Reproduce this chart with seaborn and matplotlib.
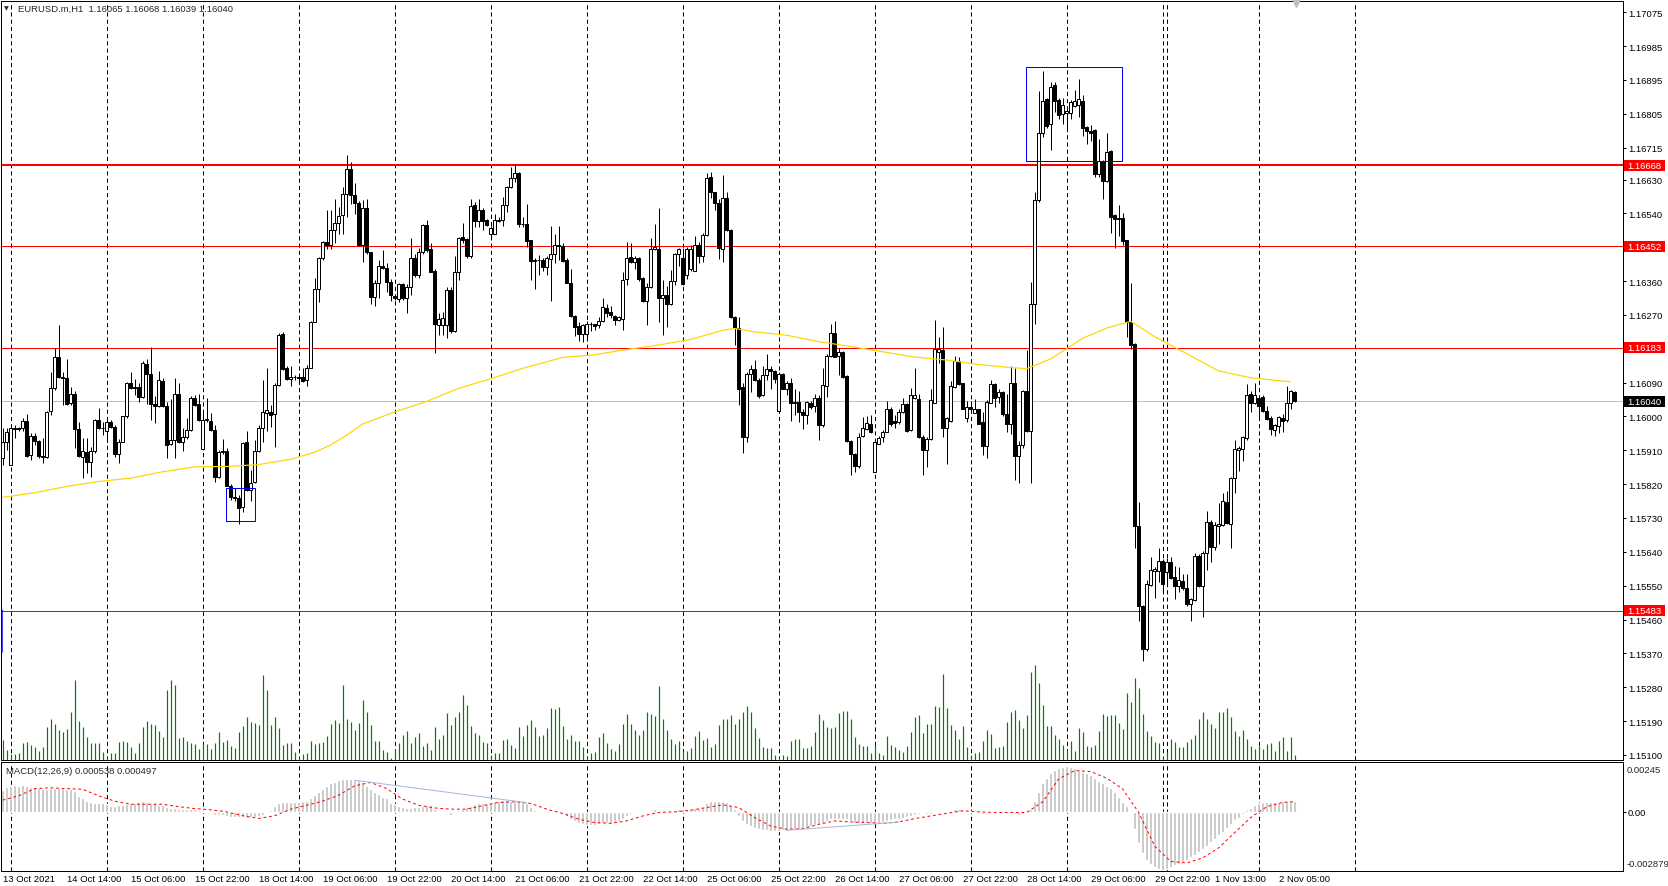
import matplotlib
matplotlib.use("Agg")
import matplotlib.pyplot as plt
import matplotlib.transforms as mtransforms
from matplotlib.patches import Rectangle
import numpy as np
import seaborn as sns

# EURUSD.m H1 candles, bar 0 = 13 Oct 2021 22:00
open_ = [
 1.15889, 1.15933, 1.15871, 1.15966, 1.15970, 1.15969, 1.15988, 1.15898, 1.15949, 1.15935,
 1.15896, 1.15893, 1.16015, 1.16075, 1.16159, 1.16105, 1.16103, 1.16035, 1.16059, 1.15966,
 1.15893, 1.15905, 1.15878, 1.15907, 1.15990, 1.15969, 1.15960, 1.15985, 1.15973, 1.15901,
 1.15933, 1.16000, 1.16088, 1.16075, 1.16077, 1.16052, 1.16139, 1.16114, 1.16034, 1.16029,
 1.16094, 1.16029, 1.15926, 1.15938, 1.16059, 1.15931, 1.15946, 1.15965, 1.16048, 1.16032,
 1.15914, 1.15991, 1.15988, 1.15964, 1.15840, 1.15905, 1.15907, 1.15816, 1.15785, 1.15783,
 1.15758, 1.15931, 1.15805, 1.15825, 1.15907, 1.15969, 1.16008, 1.16013, 1.16006, 1.16084,
 1.16218, 1.16130, 1.16100, 1.16106, 1.16104, 1.16106, 1.16096, 1.16130, 1.16252, 1.16340,
 1.16420, 1.16464, 1.16455, 1.16495, 1.16515, 1.16535, 1.16592, 1.16659, 1.16590, 1.16568,
 1.16455, 1.16553, 1.16436, 1.16317, 1.16356, 1.16400, 1.16395, 1.16358, 1.16320, 1.16311,
 1.16351, 1.16314, 1.16345, 1.16420, 1.16376, 1.16436, 1.16508, 1.16445, 1.16386, 1.16243,
 1.16243, 1.16243, 1.16336, 1.16227, 1.16385, 1.16477, 1.16471, 1.16427, 1.16562, 1.16519,
 1.16550, 1.16522, 1.16485, 1.16485, 1.16521, 1.16523, 1.16562, 1.16610, 1.16634, 1.16648,
 1.16513, 1.16512, 1.16468, 1.16414, 1.16416, 1.16415, 1.16398, 1.16418, 1.16431, 1.16455,
 1.16453, 1.16415, 1.16355, 1.16268, 1.16240, 1.16219, 1.16219, 1.16247, 1.16245, 1.16243,
 1.16254, 1.16289, 1.16277, 1.16268, 1.16256, 1.16259, 1.16365, 1.16423, 1.16411, 1.16420,
 1.16369, 1.16307, 1.16345, 1.16446, 1.16446, 1.16316, 1.16322, 1.16298, 1.16360, 1.16433,
 1.16422, 1.16375, 1.16391, 1.16388, 1.16457, 1.16427, 1.16483, 1.16636, 1.16596, 1.16568,
 1.16446, 1.16581, 1.16496, 1.16265, 1.16235, 1.16079, 1.15946, 1.16112, 1.16126, 1.16096,
 1.16057, 1.16111, 1.16127, 1.16120, 1.16014, 1.16112, 1.16074, 1.16090, 1.16039, 1.16039,
 1.16011, 1.16005, 1.16037, 1.16028, 1.16050, 1.15977, 1.16081, 1.16161, 1.16223, 1.16161,
 1.16172, 1.16107, 1.15935, 1.15899, 1.15867, 1.15949, 1.15966, 1.15981, 1.15853, 1.15928,
 1.15946, 1.15959, 1.16021, 1.15988, 1.15984, 1.16011, 1.16032, 1.15964, 1.16048, 1.16046,
 1.15946, 1.15911, 1.15940, 1.16037, 1.16172, 1.16176, 1.15970, 1.15988, 1.16079, 1.16148,
 1.16088, 1.15996, 1.16026, 1.16010, 1.16019, 1.15984, 1.15922, 1.16037, 1.16087, 1.16053,
 1.16064, 1.16006, 1.15980, 1.16090, 1.15896, 1.15924, 1.16067, 1.15962, 1.16298, 1.16575,
 1.16755, 1.16843, 1.16778, 1.16880, 1.16842, 1.16804, 1.16807, 1.16807, 1.16825, 1.16827,
 1.16840, 1.16770, 1.16759, 1.16762, 1.16646, 1.16680, 1.16625, 1.16707, 1.16535, 1.16526,
 1.16528, 1.16468, 1.16250, 1.16193, 1.15709, 1.15497, 1.15381, 1.15552, 1.15590, 1.15589,
 1.15615, 1.15586, 1.15612, 1.15573, 1.15549, 1.15563, 1.15544, 1.15502, 1.15513, 1.15630,
 1.15549, 1.15636, 1.15720, 1.15654, 1.15710, 1.15712, 1.15773, 1.15714, 1.15836, 1.15911,
 1.15914, 1.15943, 1.16061, 1.16037, 1.16048, 1.16053, 1.16014, 1.15995, 1.15964, 1.15974,
 1.15995, 1.15990, 1.16035, 1.16065]
high = [
 1.15970, 1.15970, 1.15973, 1.15977, 1.15973, 1.15997, 1.16006, 1.15955, 1.15955, 1.15938,
 1.15942, 1.16015, 1.16117, 1.16183, 1.16243, 1.16117, 1.16153, 1.16077, 1.16068, 1.15985,
 1.15942, 1.15944, 1.15920, 1.15992, 1.16022, 1.15986, 1.15993, 1.15990, 1.15977, 1.15940,
 1.16002, 1.16092, 1.16117, 1.16100, 1.16088, 1.16147, 1.16153, 1.16185, 1.16055, 1.16121,
 1.16103, 1.16039, 1.16046, 1.16103, 1.16088, 1.15970, 1.15997, 1.16055, 1.16057, 1.16059,
 1.16013, 1.16050, 1.16008, 1.15977, 1.15911, 1.15940, 1.15917, 1.15820, 1.15811, 1.15792,
 1.15933, 1.15960, 1.15858, 1.15938, 1.15977, 1.16097, 1.16130, 1.16031, 1.16088, 1.16221,
 1.16225, 1.16133, 1.16133, 1.16110, 1.16106, 1.16128, 1.16137, 1.16254, 1.16367, 1.16424,
 1.16466, 1.16548, 1.16548, 1.16577, 1.16557, 1.16610, 1.16694, 1.16677, 1.16621, 1.16572,
 1.16575, 1.16577, 1.16438, 1.16362, 1.16415, 1.16442, 1.16407, 1.16365, 1.16322, 1.16354,
 1.16354, 1.16351, 1.16475, 1.16431, 1.16448, 1.16513, 1.16522, 1.16460, 1.16393, 1.16274,
 1.16278, 1.16345, 1.16345, 1.16427, 1.16477, 1.16515, 1.16475, 1.16579, 1.16570, 1.16579,
 1.16553, 1.16524, 1.16507, 1.16537, 1.16531, 1.16584, 1.16613, 1.16663, 1.16670, 1.16650,
 1.16531, 1.16566, 1.16469, 1.16420, 1.16429, 1.16420, 1.16427, 1.16507, 1.16484, 1.16507,
 1.16460, 1.16420, 1.16393, 1.16269, 1.16250, 1.16247, 1.16254, 1.16250, 1.16247, 1.16265,
 1.16315, 1.16298, 1.16294, 1.16269, 1.16268, 1.16383, 1.16464, 1.16460, 1.16427, 1.16424,
 1.16371, 1.16356, 1.16475, 1.16513, 1.16554, 1.16362, 1.16347, 1.16390, 1.16435, 1.16448,
 1.16448, 1.16450, 1.16457, 1.16480, 1.16465, 1.16488, 1.16648, 1.16650, 1.16598, 1.16579,
 1.16642, 1.16596, 1.16499, 1.16267, 1.16265, 1.16090, 1.16119, 1.16138, 1.16150, 1.16101,
 1.16135, 1.16167, 1.16135, 1.16123, 1.16119, 1.16116, 1.16094, 1.16101, 1.16074, 1.16067,
 1.16021, 1.16041, 1.16041, 1.16060, 1.16058, 1.16129, 1.16167, 1.16245, 1.16254, 1.16182,
 1.16173, 1.16110, 1.15937, 1.15902, 1.15955, 1.15998, 1.16002, 1.16005, 1.15935, 1.15949,
 1.15964, 1.16041, 1.16026, 1.16005, 1.16021, 1.16050, 1.16035, 1.16076, 1.16129, 1.16061,
 1.15950, 1.15946, 1.16074, 1.16257, 1.16211, 1.16238, 1.15999, 1.16094, 1.16161, 1.16158,
 1.16090, 1.16041, 1.16041, 1.16046, 1.16021, 1.16012, 1.16043, 1.16096, 1.16090, 1.16074,
 1.16067, 1.16061, 1.16134, 1.16130, 1.15935, 1.16071, 1.16176, 1.16358, 1.16598, 1.16865,
 1.16919, 1.16846, 1.16890, 1.16888, 1.16846, 1.16848, 1.16825, 1.16841, 1.16869, 1.16898,
 1.16854, 1.16772, 1.16775, 1.16764, 1.16739, 1.16683, 1.16755, 1.16709, 1.16539, 1.16562,
 1.16541, 1.16470, 1.16355, 1.16195, 1.15773, 1.15499, 1.15565, 1.15626, 1.15599, 1.15649,
 1.15620, 1.15623, 1.15626, 1.15602, 1.15599, 1.15581, 1.15581, 1.15518, 1.15636, 1.15633,
 1.15641, 1.15749, 1.15725, 1.15720, 1.15770, 1.15796, 1.15801, 1.15838, 1.15938, 1.15922,
 1.15948, 1.16085, 1.16069, 1.16088, 1.16053, 1.16056, 1.16027, 1.16001, 1.15980, 1.16001,
 1.16006, 1.16082, 1.16071, 1.16068]
low = [
 1.15871, 1.15911, 1.15871, 1.15942, 1.15960, 1.15960, 1.15893, 1.15885, 1.15924, 1.15889,
 1.15876, 1.15889, 1.16004, 1.16070, 1.16101, 1.16031, 1.16031, 1.16031, 1.15915, 1.15893,
 1.15836, 1.15849, 1.15840, 1.15902, 1.15967, 1.15951, 1.15933, 1.15969, 1.15893, 1.15876,
 1.15931, 1.15995, 1.16073, 1.16057, 1.16039, 1.16048, 1.16032, 1.15991, 1.15982, 1.16026,
 1.16026, 1.15889, 1.15924, 1.15889, 1.15929, 1.15907, 1.15940, 1.15961, 1.16029, 1.15988,
 1.15911, 1.15985, 1.15960, 1.15827, 1.15836, 1.15900, 1.15814, 1.15777, 1.15776, 1.15714,
 1.15747, 1.15802, 1.15774, 1.15823, 1.15905, 1.15931, 1.15960, 1.15973, 1.15920, 1.16082,
 1.16123, 1.16097, 1.16082, 1.16097, 1.16092, 1.16092, 1.16082, 1.16128, 1.16250, 1.16303,
 1.16415, 1.16446, 1.16446, 1.16462, 1.16486, 1.16486, 1.16531, 1.16566, 1.16539, 1.16454,
 1.16411, 1.16433, 1.16300, 1.16294, 1.16314, 1.16393, 1.16330, 1.16307, 1.16309, 1.16305,
 1.16309, 1.16274, 1.16323, 1.16371, 1.16367, 1.16433, 1.16438, 1.16383, 1.16168, 1.16216,
 1.16216, 1.16209, 1.16221, 1.16225, 1.16362, 1.16462, 1.16420, 1.16420, 1.16504, 1.16504,
 1.16495, 1.16507, 1.16473, 1.16484, 1.16517, 1.16507, 1.16544, 1.16608, 1.16624, 1.16504,
 1.16504, 1.16451, 1.16362, 1.16340, 1.16376, 1.16386, 1.16377, 1.16307, 1.16407, 1.16415,
 1.16411, 1.16354, 1.16265, 1.16215, 1.16200, 1.16197, 1.16207, 1.16227, 1.16230, 1.16234,
 1.16250, 1.16265, 1.16261, 1.16243, 1.16254, 1.16230, 1.16349, 1.16408, 1.16393, 1.16360,
 1.16305, 1.16243, 1.16342, 1.16442, 1.16252, 1.16216, 1.16238, 1.16296, 1.16350, 1.16400,
 1.16350, 1.16366, 1.16388, 1.16386, 1.16409, 1.16412, 1.16481, 1.16581, 1.16550, 1.16419,
 1.16412, 1.16492, 1.16262, 1.16191, 1.16030, 1.15902, 1.15933, 1.16064, 1.16094, 1.16048,
 1.16055, 1.16096, 1.16074, 1.16090, 1.16014, 1.16073, 1.16057, 1.15988, 1.16005, 1.15986,
 1.15966, 1.15981, 1.16020, 1.16011, 1.15937, 1.15973, 1.16051, 1.16158, 1.16157, 1.16110,
 1.16103, 1.15933, 1.15844, 1.15851, 1.15862, 1.15946, 1.15964, 1.15955, 1.15851, 1.15926,
 1.15931, 1.15958, 1.15975, 1.15970, 1.15981, 1.16008, 1.15958, 1.15961, 1.16046, 1.15942,
 1.15844, 1.15866, 1.15937, 1.16035, 1.16143, 1.15946, 1.15873, 1.15986, 1.16076, 1.16083,
 1.16020, 1.15986, 1.16012, 1.16008, 1.15979, 1.15897, 1.15890, 1.16035, 1.16026, 1.16037,
 1.16001, 1.15959, 1.15953, 1.15830, 1.15822, 1.15917, 1.15959, 1.15822, 1.16245, 1.16571,
 1.16743, 1.16767, 1.16709, 1.16809, 1.16791, 1.16778, 1.16767, 1.16791, 1.16823, 1.16796,
 1.16746, 1.16725, 1.16733, 1.16638, 1.16636, 1.16578, 1.16623, 1.16489, 1.16449, 1.16481,
 1.16455, 1.16211, 1.16179, 1.15649, 1.15455, 1.15350, 1.15376, 1.15549, 1.15518, 1.15560,
 1.15536, 1.15554, 1.15567, 1.15515, 1.15533, 1.15539, 1.15497, 1.15455, 1.15510, 1.15546,
 1.15468, 1.15591, 1.15612, 1.15644, 1.15662, 1.15710, 1.15714, 1.15651, 1.15796, 1.15854,
 1.15882, 1.15938, 1.16011, 1.16032, 1.15990, 1.16011, 1.15990, 1.15951, 1.15948, 1.15956,
 1.15959, 1.15985, 1.16019, 1.16039]
close = [
 1.15933, 1.15958, 1.15970, 1.15970, 1.15966, 1.15988, 1.15896, 1.15949, 1.15935, 1.15896,
 1.15893, 1.16013, 1.16075, 1.16159, 1.16105, 1.16101, 1.16032, 1.16059, 1.15967, 1.15896,
 1.15907, 1.15878, 1.15907, 1.15990, 1.15969, 1.15970, 1.15985, 1.15973, 1.15900, 1.15933,
 1.16000, 1.16090, 1.16075, 1.16077, 1.16052, 1.16141, 1.16114, 1.16034, 1.16029, 1.16096,
 1.16029, 1.15924, 1.15938, 1.16059, 1.15931, 1.15946, 1.15965, 1.16048, 1.16031, 1.15991,
 1.15991, 1.15993, 1.15964, 1.15838, 1.15905, 1.15907, 1.15816, 1.15785, 1.15783, 1.15756,
 1.15929, 1.15805, 1.15823, 1.15907, 1.15970, 1.16011, 1.16016, 1.16004, 1.16084, 1.16216,
 1.16126, 1.16100, 1.16106, 1.16104, 1.16101, 1.16094, 1.16130, 1.16252, 1.16340, 1.16422,
 1.16464, 1.16455, 1.16497, 1.16515, 1.16533, 1.16592, 1.16659, 1.16590, 1.16568, 1.16455,
 1.16554, 1.16436, 1.16317, 1.16356, 1.16400, 1.16395, 1.16358, 1.16324, 1.16314, 1.16351,
 1.16314, 1.16345, 1.16420, 1.16376, 1.16438, 1.16508, 1.16442, 1.16385, 1.16247, 1.16259,
 1.16261, 1.16336, 1.16227, 1.16385, 1.16475, 1.16469, 1.16427, 1.16560, 1.16519, 1.16550,
 1.16519, 1.16508, 1.16501, 1.16522, 1.16523, 1.16563, 1.16610, 1.16634, 1.16648, 1.16513,
 1.16512, 1.16466, 1.16414, 1.16416, 1.16415, 1.16398, 1.16420, 1.16431, 1.16455, 1.16453,
 1.16414, 1.16355, 1.16267, 1.16238, 1.16219, 1.16243, 1.16247, 1.16245, 1.16241, 1.16254,
 1.16292, 1.16274, 1.16269, 1.16256, 1.16265, 1.16362, 1.16422, 1.16410, 1.16420, 1.16365,
 1.16307, 1.16345, 1.16446, 1.16450, 1.16316, 1.16323, 1.16300, 1.16360, 1.16433, 1.16446,
 1.16351, 1.16444, 1.16444, 1.16457, 1.16426, 1.16483, 1.16635, 1.16596, 1.16567, 1.16448,
 1.16581, 1.16495, 1.16265, 1.16235, 1.16074, 1.15946, 1.16114, 1.16126, 1.16096, 1.16055,
 1.16111, 1.16126, 1.16120, 1.16099, 1.16114, 1.16074, 1.16090, 1.16037, 1.16036, 1.16011,
 1.16004, 1.16039, 1.16024, 1.16048, 1.15977, 1.16083, 1.16161, 1.16223, 1.16158, 1.16172,
 1.16105, 1.15935, 1.15899, 1.15869, 1.15946, 1.15968, 1.15983, 1.15958, 1.15931, 1.15943,
 1.15959, 1.16021, 1.15981, 1.15983, 1.16012, 1.16032, 1.15961, 1.16058, 1.16058, 1.15946,
 1.15911, 1.15940, 1.16043, 1.16179, 1.16179, 1.15970, 1.15995, 1.16081, 1.16148, 1.16085,
 1.16021, 1.16026, 1.16021, 1.16021, 1.15981, 1.15922, 1.16039, 1.16087, 1.16050, 1.16064,
 1.16006, 1.15980, 1.16090, 1.15896, 1.15924, 1.16067, 1.15962, 1.16300, 1.16576, 1.16755,
 1.16839, 1.16772, 1.16875, 1.16838, 1.16802, 1.16828, 1.16812, 1.16835, 1.16838, 1.16843,
 1.16767, 1.16760, 1.16754, 1.16644, 1.16680, 1.16625, 1.16704, 1.16531, 1.16526, 1.16528,
 1.16466, 1.16250, 1.16190, 1.15709, 1.15497, 1.15381, 1.15554, 1.15591, 1.15594, 1.15615,
 1.15554, 1.15612, 1.15570, 1.15549, 1.15565, 1.15544, 1.15500, 1.15515, 1.15630, 1.15549,
 1.15636, 1.15720, 1.15654, 1.15712, 1.15715, 1.15775, 1.15717, 1.15836, 1.15914, 1.15917,
 1.15945, 1.16058, 1.16037, 1.16058, 1.16029, 1.16014, 1.15993, 1.15966, 1.15977, 1.15998,
 1.15987, 1.16037, 1.16069, 1.16040]

# tick volume per bar
volume = [
 20, 10, 6, 6, 7, 17, 18, 15, 13, 9, 13, 33, 41, 36, 30, 28, 31, 48, 80, 39, 33, 23, 17, 17, 17, 8,
 3, 7, 7, 18, 19, 18, 13, 7, 17, 33, 39, 36, 35, 29, 23, 70, 80, 75, 22, 23, 19, 17, 16, 11,
 16, 16, 11, 17, 28, 18, 20, 14, 12, 28, 34, 43, 38, 37, 35, 85, 70, 35, 43, 32, 15, 17, 17, 8,
 3, 6, 7, 19, 16, 17, 18, 24, 36, 40, 37, 75, 41, 38, 30, 37, 60, 48, 35, 19, 19, 10, 8, 2,
 11, 17, 25, 29, 17, 23, 27, 14, 17, 10, 33, 21, 25, 47, 35, 43, 48, 65, 55, 34, 27, 25, 18, 17,
 5, 7, 7,
 20, 21, 15, 12, 33, 24, 35, 40, 33, 24, 25, 32, 52, 51, 53, 34, 21, 25, 19, 19, 13,
 3, 7, 8, 23, 27, 17, 11, 9, 16, 36, 46, 36, 30, 25, 30, 48, 46, 44, 74, 41, 30, 21, 16, 19,
 9, 9, 12, 24, 29, 20, 22, 13, 16, 35, 41, 41, 45, 36, 41, 48, 54, 48, 32, 22, 13, 12, 12, 5,
 3, 5, 4, 19, 21, 21, 12, 12, 14, 28, 46, 40, 33, 32, 33, 47, 49, 49, 41, 23, 16, 14, 14, 7,
 15, 7, 5, 24, 15, 13, 10, 8, 14, 28, 43, 45, 27, 36, 36, 54, 53, 86, 52, 35, 30, 21, 34, 13,
 5, 7, 8, 19, 30, 26, 12, 13, 14, 38, 48, 50, 40, 32, 45, 88, 95, 77, 55, 34, 34, 25, 21, 15,
 10, 19, 9, 32, 28, 14, 13, 15, 29, 46, 44, 45, 45, 37, 31, 67, 58, 82, 72, 46, 29, 24, 18, 17,
 3, 8, 21, 18, 13, 13, 18, 21, 25, 41, 48, 41, 36, 32, 48, 48, 52, 43, 29, 24, 30, 21, 14, 11,
 14, 11, 16, 17, 9, 19, 23, 9, 23, 5]

# MACD(12,26,9) main line per bar, in units of 1e-5
macd_e5 = [
 106, 122, 127, 130, 127, 133, 125, 122, 122, 117, 110, 113, 117, 117, 117, 117, 113, 113, 101, 78,
 65, 52, 46, 44, 44, 41, 39, 30, 28, 32, 32, 37, 41, 44, 46, 52, 49, 44, 44, 32,
 32, 25, 19, 19, 16, 13, 13, 13, 13, 8, 8, -3, -3, -13, -16, -16, -19, -23, -25, -26,
 -26, -28, -26, -23, -19, -13, -3, 8, 30, 44, 46, 49, 49, 49, 49, 52, 52, 65, 81, 97,
 113, 127, 138, 147, 154, 158, 159, 159, 159, 154, 147, 127, 113, 97, 85, 73, 65, 41, 36, 30,
 25, 21, 21, 23, 25, 30, 32, 32, 16, 3, -3, -8, -13, -8, 8, 16, 25, 30, 36, 44,
 44, 44, 49, 54, 54, 57, 57, 54, 54, 46, 49, 41, 26, 10, 5, 0, -3, 0, 0, -3,
 -8, -20, -33, -44, -52, -61, -64, -64, -64, -61, -56, -56, -52, -49, -44, -36, -20, -11, -8, -3,
 -3, 5, 2, 13, 2, 0, 2, 0, 5, 13, 16, 16, 16, 18, 21, 26, 43, 51, 54, 54,
 51, 46, 33, 13, -20, -44, -61, -69, -77, -85, -88, -90, -93, -93, -93, -88, -88, -88, -85, -82,
 -77, -72, -69, -65, -61, -52, -44, -36, -33, -33, -33, -36, -44, -52, -56, -56, -56, -52, -52, -49,
 -49, -44, -41, -36, -33, -28, -25, -20, -16, -11, -8, -11, -11, -3, 5, 5, 2, 5, 13, 13,
 10, 5, 2, -3, -8, -11, -7, -3, -3, 0, -3, -7, -3, -11, -16, -11, -3, 16, 54, 98,
 139, 165, 190, 206, 214, 218, 221, 218, 214, 206, 196, 190, 180, 165, 152, 141, 124, 116, 95, 70,
 49, 29, 0, -85, -151, -200, -235, -255, -270, -280, -282, -278, -270, -260, -252, -243, -234, -222, -210, -196,
 -183, -164, -147, -131, -115, -97, -77, -61, -41, -28, -11, 10, 21, 33, 43, 46, 49, 49, 49, 49,
 51, 51, 52, 54]

# MACD signal line, read every 4 bars (1e-5 units)
signal_bars = list(range(0, 321, 4)) + [323]
signal_e5 = [
 57, 78, 113, 117, 113, 110, 78, 52, 37, 37, 37, 25, 16, 10, 0, -19, -32, -19, 13, 32,
 52, 81, 127, 143, 113, 62, 32, 19, 13, 13, 30,
 46, 49, 41, 13, -8, -36, -52, -56, -44, -20, -3, 0, 8, 21, 34, 21, -28, -69, -85, -82,
 -61, -44, -49, -52, -56, -49, -33, -20, -7, 5, 0, -3, -3, -3, 49, 160, 201, 196, 164, 111,
 -3, -167, -241, -249, -224, -175, -101, -28, 25, 46, 49.7]

# yellow moving average, read at these bars
ma_bars = [0, 8, 16, 24, 32, 40, 48, 56, 64, 72, 78, 82, 86, 90, 98, 106, 114, 122, 130, 140,
           148, 156, 164, 172, 180, 183, 188, 196, 204, 212, 220, 228, 236, 244, 252, 256, 262,
           270, 276, 282, 288, 296, 304, 312, 322]
ma_price = [1.15785, 1.15797, 1.15814, 1.15827, 1.15836, 1.15853, 1.15866, 1.15867, 1.15872,
            1.15886, 1.15905, 1.15924, 1.15950, 1.15980, 1.16012, 1.16040, 1.16075, 1.16100,
            1.16128, 1.16157, 1.16164, 1.16178, 1.16190, 1.16205, 1.16229, 1.16234, 1.16225,
            1.16216, 1.16199, 1.16186, 1.16172, 1.16158, 1.16150, 1.16138, 1.16130, 1.16127,
            1.16153, 1.16208, 1.16235, 1.16253, 1.16212, 1.16167, 1.16121, 1.16103, 1.16092]

levels = [1.16668, 1.16452, 1.16183, 1.15483]
level_widths = [2, 1, 1, 1]
bid = 1.16040
price_ticks = [1.17075, 1.16985, 1.16895, 1.16805, 1.16715, 1.16630, 1.16540, 1.16360, 1.16270,
               1.16090, 1.16000, 1.15910, 1.15820, 1.15730, 1.15640, 1.15550, 1.15460, 1.15370,
               1.15280, 1.15190, 1.15100]
date_bars = [0, 16, 32, 48, 64, 80, 96, 112, 128, 144, 160, 176, 192, 208, 224, 240, 256, 272,
             288, 303, 319]
date_labels = ["13 Oct 2021", "14 Oct 14:00", "15 Oct 06:00", "15 Oct 22:00", "18 Oct 14:00",
               "19 Oct 06:00", "19 Oct 22:00", "20 Oct 14:00", "21 Oct 06:00", "21 Oct 22:00",
               "22 Oct 14:00", "25 Oct 06:00", "25 Oct 22:00", "26 Oct 14:00", "27 Oct 06:00",
               "27 Oct 22:00", "28 Oct 14:00", "29 Oct 06:00", "29 Oct 22:00", "1 Nov 13:00",
               "2 Nov 05:00"]
day_bars = list(range(2, 339, 24)) + [291]
# boxes drawn on chart: (bar from, bar to, price low, price high)
boxes = [(55.8, 63.0, 1.15721, 1.15811), (255.8, 279.9, 1.16679, 1.16929)]
# MACD trend lines: (bar, value) pairs
macd_lines = [((88, 0.00154), (131, 0.00045)), ((196, -0.00090), (224, -0.00050))]

# ---------------- drawing ----------------
sns.set_theme(style="white")
plt.rcParams['font.family'] = ['Liberation Sans', 'DejaVu Sans']
plt.rcParams['lines.scale_dashes'] = False
W, H = 1668, 887
PX = 0.72
FS = 6.8
DASH = (0, (3, 2.2))

fig = plt.figure(figsize=(W / 100, H / 100), dpi=100, facecolor='white')


def box(l, t, r, b):
    return [l / W, 1 - b / H, (r - l) / W, (b - t) / H]


ax = fig.add_axes(box(0.5, 1.7, 1622.7, 760.5))
axm = fig.add_axes(box(0.5, 762.5, 1622.7, 872))
axv = ax.twinx()

bars = np.arange(len(close))
o = np.array(open_)
c = np.array(close)
up = c >= o

for b in day_bars:
    ax.axvline(b, color='black', lw=PX, ls=DASH, zorder=1)
    axm.axvline(b, color='black', lw=PX, ls=DASH, zorder=1)

for p, w in zip(levels, level_widths):
    ax.axhline(p, color='#FF0000', lw=w * PX, zorder=2)
ax.axhline(bid, color='#C0C0C0', lw=PX, zorder=2)

ax.vlines(bars, low, high, colors='black', lw=PX, zorder=3)
ax.bar(bars[up], (c - o)[up], bottom=o[up], width=0.62, facecolor='white',
       edgecolor='black', linewidth=PX, zorder=4)
ax.bar(bars[~up], (o - c)[~up], bottom=c[~up], width=0.62, facecolor='black',
       edgecolor='black', linewidth=PX, zorder=4)

sns.lineplot(x=ma_bars, y=ma_price, ax=ax, color='#FFD700', linewidth=1.2 * PX, zorder=5)

for b0, b1, p0, p1 in boxes:
    ax.add_patch(Rectangle((b0, p0), b1 - b0, p1 - p0, fill=False, edgecolor='#0000FF',
                           lw=PX, zorder=6))
ax.plot([-0.3, -0.3], [1.15374, 1.15485], color='#0000FF', lw=1.5 * PX, zorder=6)

# volumes at bottom of main window
axv.vlines(bars, 0, volume, colors='#008000', lw=1.2 * PX)
axv.set_ylim(0, 758.8)
axv.axis('off')

ax.set_xlim(-0.55, 405.0)
ax.set_ylim(1.17110 - 760.5 * 0.00002659, 1.17110 - 1.7 * 0.00002659)
ax.set_xticks([])
ax.yaxis.tick_right()
ax.set_yticks(price_ticks)
ax.set_yticklabels([f"{t:.5f}" for t in price_ticks])
ax.tick_params(axis='y', length=2.2, width=PX, pad=1.5, labelsize=FS, colors='black')
ax.set_xlabel('')
ax.set_ylabel('')

# price labels on the scale
trans = mtransforms.blended_transform_factory(fig.transFigure, ax.transData)
hbox = 11 * 0.00002659
for p, fc in [(lv, '#FF0000') for lv in levels] + [(bid, '#000000')]:
    ax.add_patch(Rectangle((1624 / W, p - hbox / 2), 41 / W, hbox, transform=trans,
                           facecolor=fc, edgecolor='none', clip_on=False, zorder=20))
    ax.text(1627.5 / W, p, f"{p:.5f}", transform=trans, color='white', fontsize=FS,
            ha='left', va='center', clip_on=False, zorder=21)

# chart shift marker
tshift = mtransforms.blended_transform_factory(ax.transData, ax.transAxes)
ax.plot([323.3], [1 - 2.5 / 758.8], marker='v', ms=6, color='#C0C0C0', mec='#C0C0C0',
        transform=tshift, clip_on=False, zorder=8)

# MACD window
axm.bar(bars, np.array(macd_e5) * 1e-5, width=0.75, color='#C0C0C0', zorder=2)
sns.lineplot(x=signal_bars, y=np.array(signal_e5) * 1e-5, ax=axm, color='#FF0000',
             linewidth=PX, linestyle=(0, (2, 2)), zorder=3)
for (b0, v0), (b1, v1) in macd_lines:
    axm.plot([b0, b1], [v0, v1], color='#A4B9DC', lw=PX, zorder=4)
axm.set_xlim(-0.55, 405.0)
axm.set_ylim(-0.002879, 0.00245)
axm.yaxis.tick_right()
axm.set_yticks([0])
axm.set_yticklabels(['0.00'])
axm.tick_params(axis='y', length=2.2, width=PX, pad=1.5, labelsize=FS, colors='black')
axm.set_xticks(date_bars)
axm.set_xticklabels(date_labels, ha='left')
axm.tick_params(axis='x', length=0, pad=2.5, labelsize=FS, colors='black')
axm.set_xlabel('')
axm.set_ylabel('')
fig.text(1626.5 / W, 1 - 770.7 / H, '0.00245', fontsize=FS, ha='left', va='center')
fig.text(1626.5 / W, 1 - 865 / H, '-0.002879', fontsize=FS, ha='left', va='center')

for a in (ax, axm):
    a.set_facecolor('white')
    for s in a.spines.values():
        s.set_color('black')
        s.set_linewidth(PX)
        s.set_visible(True)

fig.text(4 / W, 1 - 8.5 / H, '\u25bc', fontsize=4.5, ha='left', va='center',
         family=['DejaVu Sans'])
fig.text(18 / W, 1 - 9 / H, 'EURUSD.m,H1  1.16065 1.16068 1.16039 1.16040',
         fontsize=FS, ha='left', va='center')
fig.text(6 / W, 1 - 772 / H, 'MACD(12,26,9) 0.000538 0.000497', fontsize=FS,
         ha='left', va='center')

fig.savefig('out.png', dpi=100, facecolor='white')
